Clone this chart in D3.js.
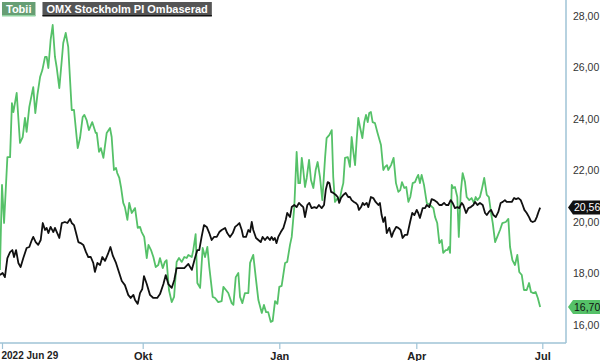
<!DOCTYPE html>
<html><head><meta charset="utf-8">
<script src="https://cdn.jsdelivr.net/npm/d3@7"></script>
<style>
html,body{margin:0;padding:0;background:#fff;}
svg{display:block;font-family:"Liberation Sans",Arial,sans-serif;}
</style></head>
<body><svg id="chart" width="600" height="361"></svg>
<script>
// ---- data: x = trading-day index from 2022-06-28 ----
const seriesNames = ["Tobii", "OMX Stockholm PI Ombaserad"];
const tickDays = [1, 69, 133, 197, 256];
const tickLabels = ["2022 Jun 29", "Okt", "Jan", "Apr", "Jul"];
const yTicks = [16, 18, 20, 22, 24, 26, 28];

const tobiiDays = [0,1,2,3.6,4.9,5.8,6.5,8.1,9.7,11,12.1,12.9,14.2,16.1,17.1,18.1,19.4,20.5,21.8,22.6,23.4,24.5,25.5,26.6,27.4,28.7,29.9,30.6,31.8,33,34.7,35.8,37.6,38.7,40,40.8,41.9,43,44.6,46.3,46.8,47.9,48.8,50,51.6,53.2,54,55.1,56.1,56.7,57.7,58.5,59.6,60.4,61.6,62.5,63.7,65.3,66.6,67.7,68.5,69.7,70.9,71.7,72.9,74,75.1,76.3,77.1,78.4,79.4,80.2,81.3,82.6,83.7,84.9,86,87.3,88.5,89.6,90.4,92,92.7,93.8,94.6,95.9,97.1,98.2,99.3,100.2,101.8,102.9,104.4,106,106.8,108,109.1,110.7,111.5,112.6,113.8,114.6,115.7,116.9,118.5,119.3,120.8,122.1,123.2,124.8,125.8,126.8,127.8,129,129.9,131,132.1,133,134.1,135.7,136.7,138,138.8,140,141.1,141.9,142.7,143.5,144.2,145,145.8,146.9,147.8,148.9,150,150.9,152,153.1,154.4,155.1,156.4,157.5,158.2,159,160.3,161,162.1,162.9,163.7,165,166,166.8,167.6,168.4,169.2,169.9,170.7,171.8,172.7,173.5,174.3,175,175.8,176.6,177.7,178.9,180.5,181.6,182.4,183.3,183.9,185.2,186.4,187.5,188.6,189.5,190.3,191.4,192.3,193.3,194.2,195.3,196.4,197.2,197.9,198.7,199.5,200.6,201.9,203.4,205,205.8,206.8,207.8,208.9,209.6,210.8,211.5,212.3,212.8,213.6,214.3,215.1,216.2,216.9,217.8,218.7,219.8,220.6,221.8,222.9,224,224.8,225.6,226.8,227.6,228.8,230,231,232,232.8,233.9,234.9,236.2,237.3,238.9,240.1,240.9,242,243.2,244.3,245.2,246.4,247.4,248.7,249.8,250.7,251.8,252.9,253.9,255];
const tobiiValues = [18.14,21.44,19.96,22.52,22.52,24.62,24.27,25.01,23.07,23.30,24.04,23.50,24.47,25.24,24.23,24.93,25.63,25.90,26.41,26.41,25.98,27.07,27.65,26.41,26.02,25.20,26.29,26.95,27.34,26.80,24.35,24.35,22.87,23.26,24.08,24.16,23.96,23.57,23.88,23.46,23.46,22.72,22.87,22.49,23.46,23.65,23.30,22.02,22.10,21.90,21.71,21.36,20.74,20.58,20.08,20.74,20.35,20.54,19.77,19.81,19.61,19.42,18.60,19.11,18.91,18.64,18.25,18.33,18.60,18.21,18.45,18.52,17.36,16.89,17.09,18.45,18.60,18.45,18.64,18.60,18.72,18.64,18.91,19.53,17.63,17.44,18.99,18.64,19.03,18.25,17.09,17.05,16.89,16.93,17.48,17.36,17.24,16.85,16.78,17.86,18.02,17.09,16.85,17.24,17.24,18.41,18.72,17.75,16.97,16.47,16.78,16.50,16.50,16.12,16.16,16.93,16.82,17.48,17.52,18.41,18.45,19.11,19.42,20.58,22.72,21.51,21.51,22.49,22.02,21.36,21.71,22.41,21.63,21.32,22.02,22.33,21.75,20.85,22.52,23.26,23.38,23.57,21.75,20.78,20.93,20.78,21.24,21.51,22.49,22.52,22.14,23.30,22.72,22.21,23.26,24.04,23.69,23.26,23.88,24.16,23.88,24.23,24.27,23.88,23.84,23.46,22.99,22.02,22.14,22.21,22.02,22.21,22.49,21.51,21.17,21.24,21.55,21.32,21.36,20.78,20.97,21.51,21.55,21.71,21.83,21.51,21.83,21.44,20.74,20.66,20.54,20.19,19.96,19.18,19.30,18.80,18.91,18.91,19.03,18.80,21.44,21.32,21.36,20.97,19.42,21.13,21.90,21.55,20.97,20.85,20.93,20.74,20.97,20.85,20.97,21.24,21.71,21.05,20.97,20.35,19.96,19.22,19.42,19.69,19.96,20.00,20.12,19.03,18.52,18.33,18.72,18.06,17.94,17.36,17.36,17.63,17.28,17.24,17.28,17.05,16.70];

const omxDays = [0,1.3,2.4,3.6,4.9,6,6.8,7.8,8.9,10,11.3,12.9,14.2,15.4,16.1,17.3,18.5,19.7,20.7,21.8,22.6,23.4,24.5,25.8,26.6,27.7,28.7,29.9,31.4,32.6,33.9,34.7,35.8,36.8,37.9,39,40.3,41.6,42.7,43.9,45.1,45.9,47.1,48.4,49.5,50.8,52.2,53.4,54.6,56.1,57.5,58.9,60.4,62,63.2,64.5,65.3,66.6,67.7,68.8,69.6,70.9,72.4,74,75.8,77.1,78.7,79.8,81,82.6,83.8,84.9,86.5,88.5,90.4,92,93.5,94.6,95.5,96.6,97.7,99,100.2,101.3,102.4,103.7,104.9,106,107.6,108.6,109.9,111.2,112.3,113.3,114.3,115.4,116.1,117.4,118.5,119.3,120.1,120.8,122.1,123.2,124.3,125.2,126.3,127.4,128.6,129.4,130.2,130.9,131.7,132.5,133.7,134.9,136,136.7,138,138.8,140,141.1,142.2,143.1,144.2,145,146.1,147,148.1,149.4,150.5,151.5,152.8,153.9,154.7,155.6,156.4,157.2,158.2,159.4,160.3,161,161.8,162.9,164,165.2,166,166.8,167.9,168.7,169.6,170.2,171.2,172,172.7,173.8,174.6,175.8,176.9,178,179.3,180,180.8,181.6,182.4,183.2,184.4,185.5,186.3,187.6,188.6,189.7,190.6,191.7,192.8,194.1,195.1,196.1,197.2,197.9,198.7,200,201.1,201.9,203.1,204.2,205.3,206.6,207.8,208.9,210,210.9,212,213.1,214,215.1,216.2,217.1,218.3,219,220.3,221.4,222.5,223.7,224.5,225.6,226.8,228.1,229.2,230,231,232,233.1,234.2,235.4,236.5,237.5,238.5,239.3,240.6,241.7,242.8,243.7,244.8,245.9,246.8,247.6,248.7,249.8,250.6,251.5,252.6,253.4,254.2,255];
const omxValues = [17.94,18.02,17.86,18.60,18.83,18.91,18.64,18.91,18.41,18.25,18.60,18.99,19.03,19.30,19.42,19.22,19.11,19.30,19.96,19.69,19.77,19.57,19.81,19.61,19.77,19.57,19.38,19.96,20.00,19.96,20.12,19.96,19.88,19.57,19.22,19.18,19.11,18.83,18.64,18.64,18.41,18.06,18.41,18.33,18.64,18.49,18.76,19.03,18.68,18.41,18.06,17.71,17.55,17.17,17.05,17.17,16.97,16.82,17.24,17.40,17.90,17.59,17.17,17.05,17.05,17.20,17.59,17.94,17.59,17.44,17.75,18.21,18.21,18.21,18.37,18.14,18.60,18.91,18.91,19.42,19.88,19.81,19.57,19.30,19.42,19.42,19.61,19.69,19.77,19.57,19.42,19.57,19.81,19.88,19.96,19.69,19.42,19.42,19.69,19.61,20.00,19.69,19.38,19.30,19.22,19.42,19.30,19.42,19.30,19.42,19.30,19.38,19.18,19.42,19.61,19.77,20.08,20.35,20.19,20.58,20.66,20.58,20.74,20.66,20.58,20.19,20.66,20.74,20.54,20.58,20.54,20.66,20.54,20.66,21.24,21.55,21.51,21.17,21.13,21.05,20.97,20.74,20.93,21.05,21.13,20.97,20.97,20.85,20.78,20.74,20.66,20.47,20.58,20.74,20.66,20.74,20.58,20.97,20.93,20.78,20.66,20.74,20.27,20.00,20.19,19.57,19.77,19.42,19.61,19.81,19.77,19.69,19.38,19.50,19.50,20.00,20.35,20.27,20.47,20.35,20.16,20.54,20.54,20.66,20.58,20.89,20.85,20.78,20.66,20.66,20.74,20.66,20.66,20.85,20.74,20.54,20.58,20.54,20.74,20.66,20.35,20.54,20.58,20.66,20.78,20.66,20.74,20.66,20.35,20.27,20.39,20.47,20.27,20.19,20.39,20.74,20.78,20.85,20.78,20.78,20.78,20.93,20.89,20.93,20.85,20.66,20.47,20.35,20.19,20.04,20.00,20.04,20.19,20.39,20.56];

// ---- layout ----
const W = 600, H = 361;
const plotRight = 566, plotBottom = 343;
const axisColor = "#9fc3d6";
const greenLine = "#55c168";
const blackLine = "#111111";
const fontFam = "Liberation Sans, Arial, sans-serif";

const svg = d3.select("#chart");

const x = d3.scaleLinear().domain(tickDays).range([2, 142.7, 279.3, 416.3, 542.3]);
const y = d3.scaleLinear().domain([16, 28]).range([325, 16]);

svg.append("defs").append("clipPath").attr("id", "clip")
  .append("rect").attr("x", 0).attr("y", 0).attr("width", plotRight).attr("height", plotBottom);

const line = d3.line().x(d => x(d[0])).y(d => y(d[1]));

const g = svg.append("g").attr("clip-path", "url(#clip)");
g.append("path").datum(tobiiDays.map((d, i) => [d, tobiiValues[i]]))
  .attr("d", line).attr("fill", "none").attr("stroke", greenLine)
  .attr("stroke-width", 1.8).attr("stroke-linejoin", "round");
g.append("path").datum(omxDays.map((d, i) => [d, omxValues[i]]))
  .attr("d", line).attr("fill", "none").attr("stroke", blackLine)
  .attr("stroke-width", 1.8).attr("stroke-linejoin", "round");

// x axis
const xAxis = d3.axisBottom(x).tickValues(tickDays)
  .tickFormat((d, i) => tickLabels[i]).tickSize(6).tickPadding(3).tickSizeOuter(0);
const xg = svg.append("g").attr("transform", `translate(0,${plotBottom})`).call(xAxis);
xg.select(".domain").remove();
xg.append("line").attr("x1", 0).attr("x2", plotRight).attr("y1", 0).attr("y2", 0)
  .attr("stroke", axisColor).attr("stroke-width", 1.5);
xg.selectAll(".tick line").attr("stroke", axisColor).attr("stroke-width", 1.2);
xg.selectAll(".tick text").attr("fill", "#222").attr("font-size", 11).attr("font-weight", "bold")
  .attr("font-family", fontFam);
xg.selectAll(".tick text").filter((d, i) => i === 0)
  .attr("text-anchor", "start").attr("dx", -1).attr("font-size", 10);

// y axis (right)
const yAxis = d3.axisRight(y).tickValues(yTicks)
  .tickFormat(d => d3.format(".2f")(d).replace(".", ",")).tickSize(0).tickPadding(7);
const yg = svg.append("g").attr("transform", `translate(${plotRight},0)`).call(yAxis);
yg.select(".domain").remove();
yg.append("line").attr("x1", 0).attr("x2", 0).attr("y1", 0).attr("y2", plotBottom)
  .attr("stroke", axisColor).attr("stroke-width", 1.5);
yg.selectAll(".tick text").attr("fill", "#333").attr("font-size", 10.5)
  .attr("font-family", fontFam);

// last value flags
function flag(val, bg, fg) {
  const yy = y(val);
  const fx = plotRight + 2;
  const gg = svg.append("g");
  gg.append("path")
    .attr("d", `M${fx},${yy} L${fx + 5},${yy - 7} L${W},${yy - 7} L${W},${yy + 7} L${fx + 5},${yy + 7} Z`)
    .attr("fill", bg);
  gg.append("text").attr("x", fx + 6).attr("y", yy).attr("dy", "0.35em")
    .attr("font-size", 10.5).attr("fill", fg).attr("font-family", fontFam)
    .text(d3.format(".2f")(val).replace(".", ","));
}
flag(omxValues[omxValues.length - 1], "#111", "#fff");
flag(tobiiValues[tobiiValues.length - 1], "#55c168", "#111");

// legend
const legendBg = ["#679e74", "#555555"];
const legendEdge = ["#8fd3a0", "#111111"];
let lx = 2;
seriesNames.forEach((name, i) => {
  const lg = svg.append("g");
  const r = lg.append("rect").attr("x", lx).attr("y", 2).attr("height", 14).attr("fill", legendBg[i]);
  const e = lg.append("rect").attr("x", lx).attr("y", 15).attr("height", 1.5).attr("fill", legendEdge[i]);
  const t = lg.append("text").attr("x", lx + 4).attr("y", 13)
    .attr("font-size", 11).attr("font-weight", "bold").attr("fill", "#fff")
    .attr("font-family", fontFam).text(name);
  const w = t.node().getComputedTextLength() + 8;
  r.attr("width", w);
  e.attr("width", w);
  lx += w + 7;
});
</script></body></html>
